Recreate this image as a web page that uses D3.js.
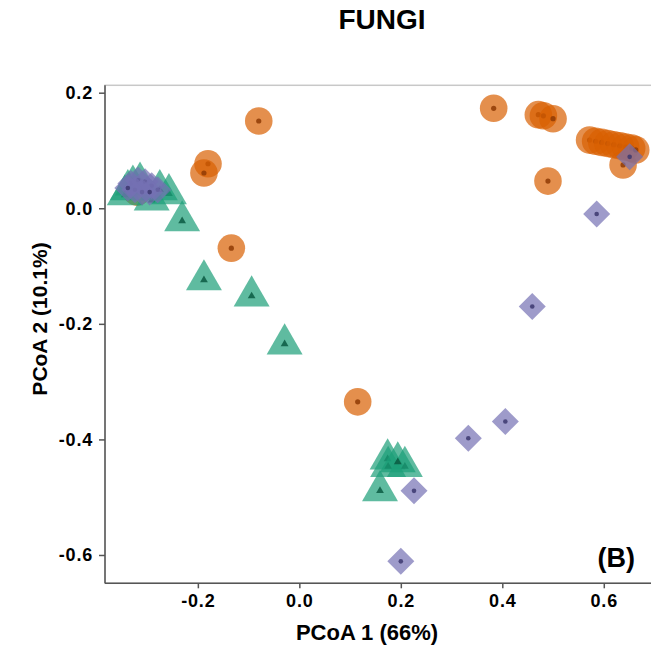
<!DOCTYPE html>
<html>
<head>
<meta charset="utf-8">
<script src="https://cdn.jsdelivr.net/npm/d3@7"></script>
<style>
  body { margin: 0; background: #fff; }
  text { font-family: "Liberation Sans", Arial, Helvetica, sans-serif; font-weight: bold; fill: #000; }
</style>
</head>
<body>
<svg id="chart" width="651" height="647"></svg>
<script>
// ---- data (PCoA coordinates) ----
const orangeX = [-0.080, -0.180, -0.188, -0.134, 0.115, 0.383, 0.471, 0.481, 0.500, 0.490, -0.320,
                 0.572, 0.584, 0.596, 0.608, 0.620, 0.632, 0.643, 0.655, 0.663, 0.638];
const orangeY = [0.151, 0.077, 0.061, -0.069, -0.335, 0.173, 0.162, 0.160, 0.155, 0.047, 0.028,
                 0.118, 0.116, 0.114, 0.112, 0.110, 0.108, 0.106, 0.104, 0.101, 0.075];

const greenX = [-0.231, -0.188, -0.094, -0.029,
                -0.328, -0.314, -0.291, -0.344, -0.257, -0.275, -0.338,
                0.174, 0.175, 0.208, 0.159, 0.194];
const greenY = [-0.022, -0.124, -0.152, -0.235,
                0.040, 0.045, 0.014, 0.023, 0.025, 0.032, 0.032,
                -0.434, -0.447, -0.447, -0.489, -0.439];

const purpleX = [0.586, 0.459, 0.406, 0.333, 0.226, 0.200, 0.651,
                 -0.332, -0.318, -0.304, -0.291, -0.279, -0.324, -0.310, -0.295, -0.338];
const purpleY = [-0.010, -0.170, -0.369, -0.398, -0.489, -0.611, 0.089,
                 0.043, 0.049, 0.046, 0.039, 0.032, 0.032, 0.028, 0.028, 0.035];

const xTicks = [-0.2, 0.0, 0.2, 0.4, 0.6];
const yTicks = [0.2, 0.0, -0.2, -0.4, -0.6];
const xDomain = [-0.383, 0.697];
const yDomain = [-0.649, 0.2128];

const title = "FUNGI";
const xTitle = "PCoA 1 (66%)";
const yTitle = "PCoA 2 (10.1%)";
const panelTag = "(B)";

// ---- layout ----
const svg = d3.select("#chart");
const pL = 105, pR = 653, pT = 85.3, pB = 583.3;
const x = d3.scaleLinear().domain(xDomain).range([pL, pR]);
const y = d3.scaleLinear().domain(yDomain).range([pB, pT]);

// panel border (light)
svg.append("rect").attr("x", pL).attr("y", pT).attr("width", pR - pL).attr("height", pB - pT)
  .attr("fill", "none").attr("stroke", "#c8c8c8").attr("stroke-width", 1.5);

const fmt = d => d3.format(".1f")(d).replace("\u2212", "-");

// axes
const xAxis = svg.append("g").attr("transform", `translate(0,${pB})`)
  .call(d3.axisBottom(x).tickValues(xTicks).tickFormat(fmt).tickSize(5).tickPadding(6));
const yAxis = svg.append("g").attr("transform", `translate(${pL},0)`)
  .call(d3.axisLeft(y).tickValues(yTicks).tickFormat(fmt).tickSize(6).tickPadding(6));
[xAxis, yAxis].forEach(g => {
  g.select(".domain").attr("stroke", "#555").attr("stroke-width", 1.5);
  g.selectAll(".tick line").attr("stroke", "#555").attr("stroke-width", 1.5);
  g.selectAll(".tick text").attr("fill", "#000").style("font-size", "18px")
    .style("letter-spacing", "0.8px").style("font-family", '"Liberation Sans", Arial, sans-serif').style("font-weight", "bold");
});
xAxis.select(".domain").attr("d", `M${pL},0H${pR}`);
yAxis.select(".domain").attr("d", `M0,${pT}V${pB}`);

// clip markers to panel
svg.append("clipPath").attr("id", "clip").append("rect")
  .attr("x", pL).attr("y", pT).attr("width", pR - pL).attr("height", pB - pT);
const plot = svg.append("g").attr("clip-path", "url(#clip)");

const groups = [
  { xs: orangeX, ys: orangeY, fill: "#d95f02", inner: "#8f3b05", type: d3.symbolCircle, size: Math.PI * 13.8 * 13.8, innerSize: Math.PI * 2.6 * 2.6 },
  { xs: greenX, ys: greenY, fill: "#1b9e77", inner: "#0b5a42", type: d3.symbolTriangle, size: 560, innerSize: 26 },
  { xs: purpleX, ys: purpleY, fill: "#7570b3", inner: "#3b376e", type: d3.symbolSquare, size: 2 * 13.5 * 13.5, innerSize: Math.PI * 2.3 * 2.3, rotate: 45, innerType: d3.symbolCircle }
];

groups.forEach(g => {
  const pts = g.xs.map((v, i) => ({ x: v, y: g.ys[i] }));
  const rot = g.rotate ? ` rotate(${g.rotate})` : "";
  const cell = plot.append("g").selectAll("g").data(pts).join("g")
    .attr("transform", d => `translate(${x(d.x)},${y(d.y)})`);
  cell.append("path")
    .attr("d", d3.symbol().type(g.type).size(g.size))
    .attr("transform", rot)
    .attr("fill", g.fill).attr("fill-opacity", 0.7);
  cell.append("path")
    .attr("d", d3.symbol().type(g.innerType || g.type).size(g.innerSize))
    .attr("fill", g.inner).attr("fill-opacity", 0.85);
});

// texts
svg.append("text").attr("x", 382).attr("y", 29).attr("text-anchor", "middle")
  .style("font-size", "28px").text(title);
svg.append("text").attr("x", 367).attr("y", 640).attr("text-anchor", "middle")
  .style("font-size", "22px").text(xTitle);
svg.append("text").attr("transform", "translate(47,319) rotate(-90)").attr("text-anchor", "middle")
  .style("font-size", "21px").text(yTitle);
svg.append("text").attr("x", 635).attr("y", 567).attr("text-anchor", "end")
  .style("font-size", "27px").text(panelTag);
</script>
</body>
</html>
